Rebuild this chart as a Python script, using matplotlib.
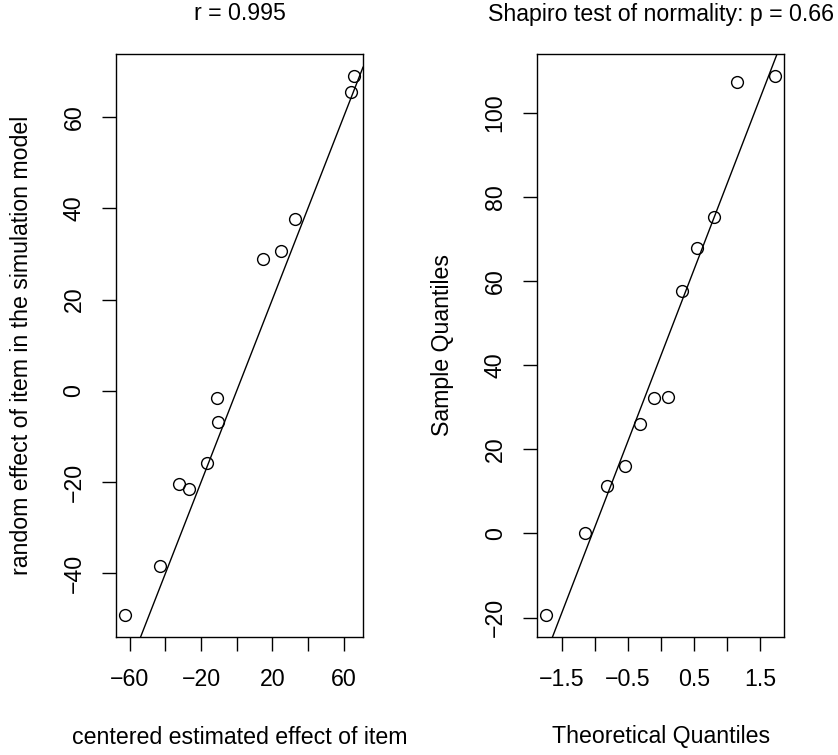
import numpy as np
import matplotlib
matplotlib.use('Agg')
import matplotlib.pyplot as plt

plt.rcParams['font.family'] = ['Liberation Sans', 'DejaVu Sans']

# left panel: estimated vs simulated item effects
est_effect = [65.8, 64.4, 32.5, 24.8, 14.7, -10.9, -10.6, -16.9, -32.1, -27.0, -43.0, -62.6]
sim_effect = [69.1, 65.4, 37.6, 30.7, 29.0, -1.5, -6.8, -15.7, -20.4, -21.4, -38.3, -49.2]
ref_intercept, ref_slope = 0.0, 1.0
left_title = 'r = 0.995'

# right panel: normal QQ plot
theo_q = [-1.732, -1.150, -0.812, -0.549, -0.319, -0.105,
          0.105, 0.319, 0.549, 0.812, 1.150, 1.732]
sample_q = [-19.5, 0.0, 11.2, 15.9, 26.1, 32.1, 32.5, 57.5, 67.8, 75.3, 107.2, 108.8]
right_title = 'Shapiro test of normality: p = 0.66'

W, H = 838, 755
fig = plt.figure(figsize=(W / 100, H / 100), dpi=100)

FS = 16.7


def r_limits(v):
    lo, hi = min(v), max(v)
    pad = 0.04 * (hi - lo)
    return lo - pad, hi + pad


def fmt(t):
    return str(t).replace('-', '\u2212')


def style_axis(ax, xticks, xshow, yticks):
    ax.set_xticks(xticks)
    ax.set_xticklabels([fmt(t) if t in xshow else '' for t in xticks])
    ax.set_yticks(yticks)
    ax.set_yticklabels([fmt(t) for t in yticks], rotation=90, va='center')
    ax.tick_params(length=10, width=1, labelsize=FS, pad=12)
    for s in ax.spines.values():
        s.set_linewidth(1)


# ---- left panel
ax1 = fig.add_axes([116 / W, 1 - 637 / H, 247 / W, 583 / H])
ax1.plot(est_effect, sim_effect, 'o', mfc='none', mec='black', ms=8.5, mew=1)
ax1.set_xlim(r_limits(est_effect))
ax1.set_ylim(r_limits(sim_effect))
xl = np.array(ax1.get_xlim())
ax1.plot(xl, ref_intercept + ref_slope * xl, color='black', lw=1)
ax1.set_xlim(r_limits(est_effect))
style_axis(ax1, [-60, -40, -20, 0, 20, 40, 60], (-60, -20, 20, 60),
           [-40, -20, 0, 20, 40, 60])

# ---- right panel
ax2 = fig.add_axes([537.3 / W, 1 - 637 / H, 247 / W, 583 / H])
ax2.plot(theo_q, sample_q, 'o', mfc='none', mec='black', ms=8.5, mew=1)
ax2.set_xlim(r_limits(theo_q))
ax2.set_ylim(r_limits(sample_q))
q1, q3 = np.percentile(sample_q, [25, 75])
z = 0.6744898
qq_slope = (q3 - q1) / (2 * z)
qq_int = q1 + z * qq_slope
xl = np.array(ax2.get_xlim())
ax2.plot(xl, qq_int + qq_slope * xl, color='black', lw=1)
ax2.set_xlim(r_limits(theo_q))
style_axis(ax2, [-1.5, -1.0, -0.5, 0.0, 0.5, 1.0, 1.5], (-1.5, -0.5, 0.5, 1.5),
           [-20, 0, 20, 40, 60, 80, 100])

# titles and axis labels
fig.text(239.5 / W, 1 - 14 / H, left_title, ha='center', va='center', fontsize=FS)
fig.text(660.7 / W, 1 - 14 / H, right_title, ha='center', va='center', fontsize=FS)
fig.text(239.5 / W, 1 - 737 / H, 'centered estimated effect of item', ha='center', va='center', fontsize=FS)
fig.text(660.7 / W, 1 - 737 / H, 'Theoretical Quantiles', ha='center', va='center', fontsize=FS)
fig.text(22 / W, 1 - 345 / H, 'random effect of item in the simulation model', ha='center', va='center',
         rotation=90, fontsize=FS)
fig.text(442 / W, 1 - 345 / H, 'Sample Quantiles', ha='center', va='center', rotation=90, fontsize=FS)

fig.savefig('out.png', dpi=100)
